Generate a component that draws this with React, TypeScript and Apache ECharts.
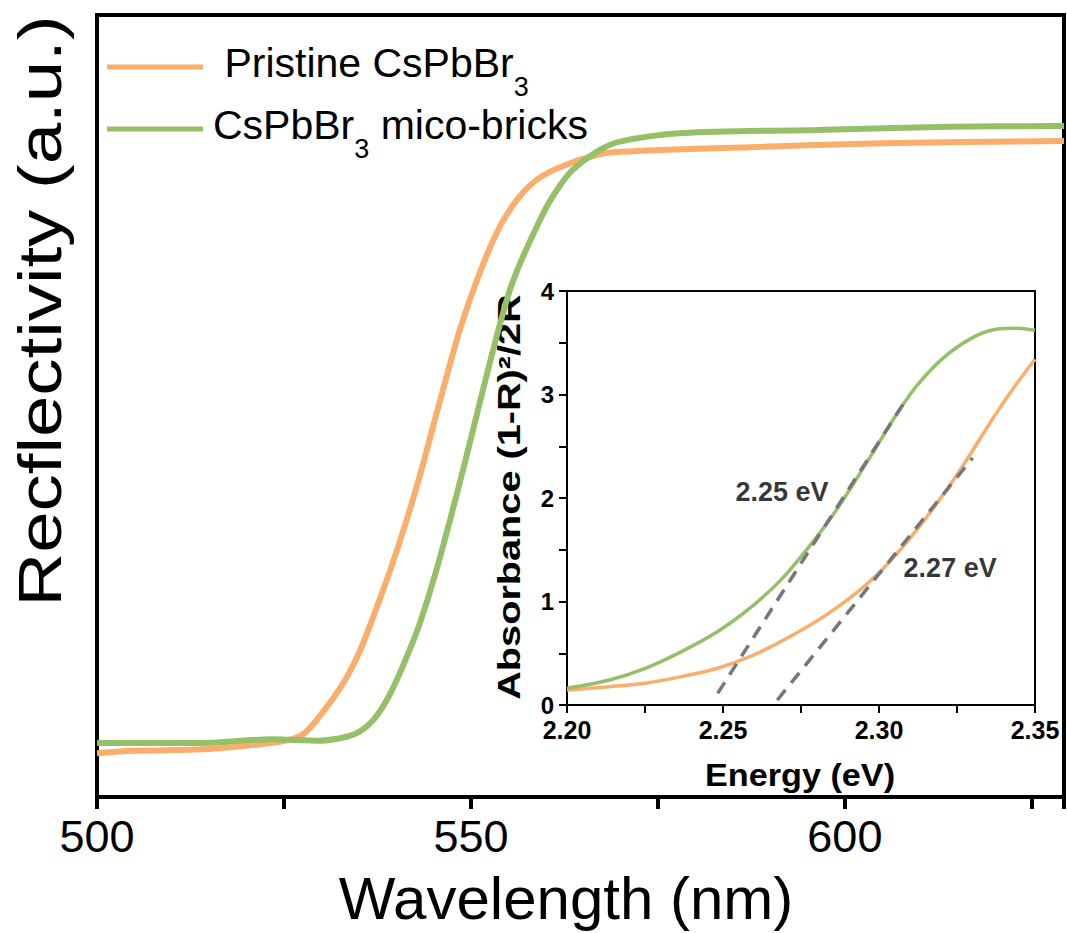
import React, { useEffect, useRef } from 'react';
import * as echarts from 'echarts';

const FONT = '"Liberation Sans", Arial, Helvetica, sans-serif';

const seriesNames = ['Pristine CsPbBr3', 'CsPbBr3 mico-bricks'];
const colors = ['#FBAD6C', '#95C068'];

// Main panel: reflectivity vs wavelength
const pristineWl = [500, 504.9, 514.3, 520.5, 525.3, 527.8, 530.7, 533.2, 535.2, 537.2, 539.2, 541.2, 543.2, 545.9, 548.5, 551.2, 553.9, 556.6, 559.2, 562.3, 566.8, 569.9, 587.3, 605.1, 629.3];
const pristineRefl = [5.6, 5.9, 6.1, 6.6, 7.2, 8.2, 11.5, 15.0, 18.8, 23.7, 29.0, 34.8, 41.2, 50.8, 59.7, 67.1, 73.0, 76.9, 79.2, 80.7, 82.1, 82.5, 83.1, 83.6, 83.9];
const bricksWl = [500, 514.3, 523.4, 529.8, 533.4, 535.2, 536.9, 538.5, 540.1, 541.8, 543.2, 545.2, 547.2, 549.2, 551.2, 553.5, 555.2, 556.6, 558.6, 560.2, 561.9, 563.6, 566.8, 569.9, 578.3, 596.3, 614.0, 629.3];
const bricksRefl = [6.9, 6.9, 7.4, 7.2, 7.7, 8.4, 9.8, 12.0, 15.0, 18.8, 22.3, 28.4, 35.4, 42.8, 50.5, 59.1, 64.8, 68.3, 72.5, 75.6, 78.2, 80.2, 82.5, 83.8, 84.9, 85.3, 85.7, 85.8];

// Inset: absorbance vs energy
const bricksEnergy = [2.2, 2.2136, 2.2251, 2.2367, 2.2483, 2.2599, 2.2691, 2.2772, 2.2853, 2.2923, 2.2993, 2.305, 2.312, 2.3201, 2.3294, 2.3375, 2.3444, 2.35];
const bricksAbs = [0.161, 0.242, 0.355, 0.516, 0.71, 0.968, 1.226, 1.516, 1.839, 2.161, 2.5, 2.78, 3.08, 3.34, 3.54, 3.63, 3.64, 3.62];
const pristineEnergy = [2.2, 2.2136, 2.2251, 2.2367, 2.2483, 2.2599, 2.2715, 2.2831, 2.2946, 2.3039, 2.3131, 2.3224, 2.3294, 2.3363, 2.3433, 2.35];
const pristineAbs = [0.145, 0.177, 0.21, 0.274, 0.355, 0.484, 0.661, 0.871, 1.129, 1.4, 1.73, 2.11, 2.43, 2.76, 3.07, 3.34];

const tangentBricks = [[2.2483, 0.113], [2.308, 2.919]];
const tangentPristine = [[2.2674, 0.048], [2.33, 2.387]];

const gapLabels = ['2.25 eV', '2.27 eV'];
const gapLabelPos = [[2.2689, 2.06], [2.3228, 1.32]];

const zip = (xs: number[], ys: number[]) => xs.map((x, i) => [x, ys[i]]);

export default function App() {
  const ref = useRef<HTMLDivElement>(null);
  useEffect(() => {
    if (!ref.current) return;
    const chart = echarts.init(ref.current, undefined, { renderer: 'svg' });
    const legendRich = {
      m: { fontSize: 41, fontFamily: FONT, color: '#000', lineHeight: 50, verticalAlign: 'top' },
      s: { fontSize: 27, fontFamily: FONT, color: '#000', lineHeight: 27, verticalAlign: 'top', padding: [31, 0, 0, 0] },
    };
    const option: any = {
      animation: false,
      backgroundColor: '#fff',
      legend: {
        data: seriesNames,
        orient: 'vertical',
        left: 102,
        top: 37,
        itemWidth: 96,
        itemHeight: 5,
        itemGap: 4,
        icon: 'rect',
        selectedMode: false,
        textStyle: { rich: legendRich, padding: [0, 0, 0, 5] },
        formatter: (name: string) =>
          name === seriesNames[0] ? '{m| Pristine CsPbBr}{s|3}' : '{m|CsPbBr}{s|3}{m| mico-bricks}',
      },
      grid: [
        { left: 97, top: 15, width: 967, height: 782, show: true, borderColor: '#000', borderWidth: 4, backgroundColor: 'transparent', containLabel: false },
        { left: 567, top: 291, width: 468, height: 414, show: true, borderColor: '#000', borderWidth: 2, backgroundColor: '#fff', containLabel: false },
      ],
      xAxis: [
        {
          gridIndex: 0, type: 'value', min: 500, max: 629.3, interval: 25,
          axisLine: { show: false },
          axisTick: { show: true, inside: false, length: 12, lineStyle: { color: '#000', width: 4 } },
          splitLine: { show: false },
          axisLabel: {
            margin: 17, fontSize: 45, fontFamily: FONT, color: '#000',
            formatter: (v: number) => (Math.abs(v % 50) < 1e-6 ? String(Math.round(v)) : ''),
          },
        },
        {
          gridIndex: 1, type: 'value', min: 2.2, max: 2.35, interval: 0.025,
          axisLine: { show: false },
          axisTick: { show: true, inside: false, length: 8, lineStyle: { color: '#000', width: 2 } },
          splitLine: { show: false },
          axisLabel: {
            margin: 14, fontSize: 25, lineHeight: 22, fontWeight: 'bold', fontFamily: FONT, color: '#000',
            formatter: (v: number) => {
              const k = Math.round(v * 1000);
              return k % 50 === 0 ? (k / 1000).toFixed(2) : '';
            },
          },
        },
      ],
      yAxis: [
        {
          gridIndex: 0, type: 'value', min: 0, max: 100,
          axisLine: { show: false }, axisTick: { show: false }, axisLabel: { show: false }, splitLine: { show: false },
        },
        {
          gridIndex: 1, type: 'value', min: 0, max: 4, interval: 0.5,
          axisLine: { show: false },
          axisTick: { show: true, inside: false, length: 8, lineStyle: { color: '#000', width: 2 } },
          splitLine: { show: false },
          axisLabel: {
            margin: 13, fontSize: 24, lineHeight: 20, fontWeight: 'bold', fontFamily: FONT, color: '#000',
            formatter: (v: number) => (Math.abs(v - Math.round(v)) < 1e-9 ? String(Math.round(v)) : ''),
          },
        },
      ],
      series: [
        {
          name: seriesNames[0], type: 'line', xAxisIndex: 0, yAxisIndex: 0, showSymbol: false, smooth: 0.3,
          data: zip(pristineWl, pristineRefl), lineStyle: { color: colors[0], width: 6 }, itemStyle: { color: colors[0] },
        },
        {
          name: seriesNames[1], type: 'line', xAxisIndex: 0, yAxisIndex: 0, showSymbol: false, smooth: 0.3,
          data: zip(bricksWl, bricksRefl), lineStyle: { color: colors[1], width: 6 }, itemStyle: { color: colors[1] },
        },
        {
          name: seriesNames[0], type: 'line', xAxisIndex: 1, yAxisIndex: 1, showSymbol: false, smooth: 0.3,
          data: zip(pristineEnergy, pristineAbs), lineStyle: { color: colors[0], width: 3.5 }, itemStyle: { color: colors[0] },
        },
        {
          name: seriesNames[1], type: 'line', xAxisIndex: 1, yAxisIndex: 1, showSymbol: false, smooth: 0.3,
          data: zip(bricksEnergy, bricksAbs), lineStyle: { color: colors[1], width: 3.5 }, itemStyle: { color: colors[1] },
        },
        {
          name: 'fit1', type: 'line', xAxisIndex: 1, yAxisIndex: 1, showSymbol: false,
          data: tangentBricks, lineStyle: { color: '#777777', width: 3.5, type: [13, 9] }, z: 5,
        },
        {
          name: 'fit2', type: 'line', xAxisIndex: 1, yAxisIndex: 1, showSymbol: false,
          data: tangentPristine, lineStyle: { color: '#777777', width: 3.5, type: [13, 9] }, z: 5,
        },
        {
          name: 'gap', type: 'scatter', xAxisIndex: 1, yAxisIndex: 1, symbolSize: 0,
          data: gapLabelPos.map((p, i) => ({ value: p, name: gapLabels[i] })),
          label: {
            show: true, position: 'inside', formatter: (p: any) => p.name,
            fontSize: 27, fontWeight: 'bold', fontFamily: FONT, color: '#000',
          },
          z: 6,
        },
      ],
      graphic: [
        {
          type: 'text', x: 40, y: 311, rotation: Math.PI / 2, scaleX: 1.2,
          style: { text: 'Recflectivity (a.u.)', fontSize: 62, fontFamily: FONT, fill: '#000', textAlign: 'center', textVerticalAlign: 'middle', align: 'center', verticalAlign: 'middle' },
        },
        {
          type: 'text', x: 566, y: 898,
          style: { text: 'Wavelength (nm)', fontSize: 60, fontFamily: FONT, fill: '#000', textAlign: 'center', textVerticalAlign: 'middle', align: 'center', verticalAlign: 'middle' },
        },
        {
          type: 'text', x: 510, y: 497, rotation: Math.PI / 2, scaleX: 1.28,
          style: { text: 'Absorbance (1-R)²/2R', fontSize: 31, fontWeight: 'bold', fontFamily: FONT, fill: '#000', textAlign: 'center', textVerticalAlign: 'middle', align: 'center', verticalAlign: 'middle' },
        },
        {
          type: 'text', x: 800, y: 775, scaleX: 1.07,
          style: { text: 'Energy (eV)', fontSize: 32, fontWeight: 'bold', fontFamily: FONT, fill: '#000', textAlign: 'center', textVerticalAlign: 'middle', align: 'center', verticalAlign: 'middle' },
        },
      ],
    };
    chart.setOption(option);
    return () => chart.dispose();
  }, []);
  return <div ref={ref} style={{ position: 'fixed', left: 0, top: 0, width: 1067, height: 933 }} />;
}
